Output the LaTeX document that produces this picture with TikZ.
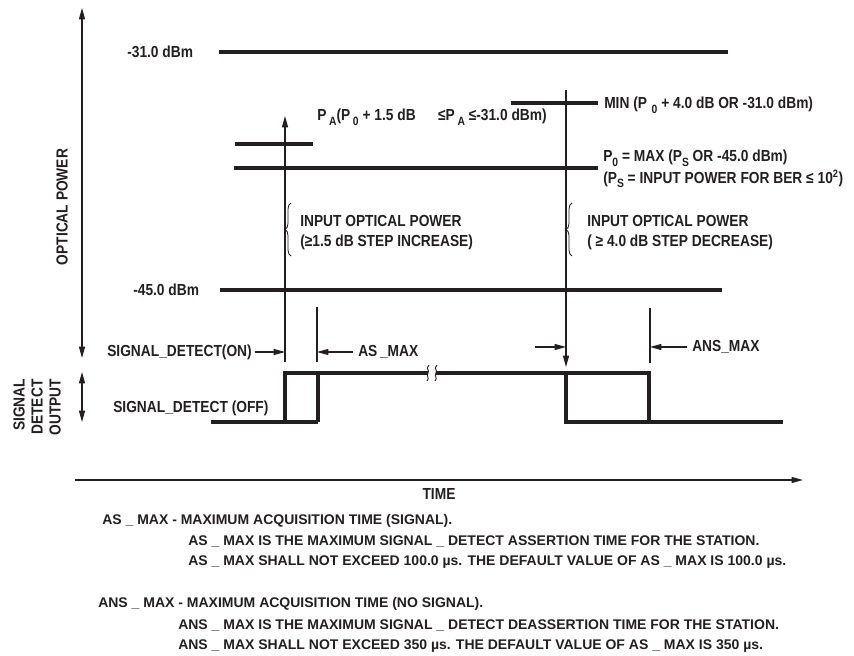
\documentclass[tikz,border=0pt]{standalone}
\usepackage{fontspec}
\setmainfont{Liberation Sans}
\newfontfamily\lblfont{Liberation Sans}[UprightFont={* Bold},FakeStretch=0.86]
\newfontfamily\notefont{Liberation Sans}[UprightFont={* Bold},FakeStretch=1.0]
\usetikzlibrary{arrows.meta,decorations.pathreplacing}
\definecolor{ink}{RGB}{35,31,32}
\newcommand\lowtxt[1]{\raisebox{-0.55ex}{\fontsize{9}{9}\selectfont #1}}
\tikzset{
  level/.style={ink,line width=3pt},
  wave/.style={ink,line width=2.6pt},
  thinline/.style={ink,line width=0.8pt},
  tip/.style={-{Triangle[length=8.5pt,width=4.5pt]}},
  lbl/.style={inner sep=0pt,text=ink,font=\lblfont\fontsize{12}{15}\selectfont},
  note/.style={inner sep=0pt,text=ink,anchor=west,font=\notefont\fontsize{10.5}{12}\selectfont},
  bracestyle/.style={ink,line width=0.6pt,decorate,decoration={brace,amplitude=4.5pt}}
}
\begin{document}
\begin{tikzpicture}[x=0.75pt,y=-0.75pt]
\useasboundingbox (0,0) rectangle (854,656);
% axes
\draw[thinline,{Triangle[length=8.5pt,width=4.5pt]}-{Triangle[length=8.5pt,width=4.5pt]}] (82,8) -- (82,358);
\draw[thinline,{Triangle[length=8.5pt,width=4.5pt]}-{Triangle[length=8.5pt,width=4.5pt]}] (82,372) -- (82,422);
\draw[thinline,tip] (75,480) -- (803,480);
\node[lbl,rotate=90] (top) at (62,207) {OPTICAL POWER};
\node[lbl,rotate=90] (s1) at (19,405) {SIGNAL};
\node[lbl,rotate=90] (s2) at (37,407) {DETECT};
\node[lbl,rotate=90] (s3) at (55,407) {OUTPUT};
\node[lbl] (ttime) at (439,494) {TIME};
% levels
\node[lbl,anchor=west] (t31) at (127,52) {-31.0 dBm};
\node[lbl,anchor=west] (t45) at (133,290) {-45.0 dBm};
\draw[level] (219,52) -- (728,52);
\draw[level] (511,103) -- (598,103);
\draw[level] (235,144) -- (313,144);
\draw[level] (234,168) -- (598,168);
\draw[level] (220,290) -- (722,290);
\node[lbl,anchor=west] (tpa) at (317,117) {P\,\lowtxt{A}(P\,\lowtxt{0} + 1.5 dB\hspace{1.4em}≤P\,\lowtxt{A} ≤-31.0 dBm)};
\node[lbl,anchor=west] (tmin) at (604,105) {MIN (P\,\lowtxt{\,0} + 4.0 dB OR -31.0 dBm)};
\node[lbl,anchor=west] (tp0) at (603,158) {P\lowtxt{0} = MAX (P\lowtxt{S} OR -45.0 dBm)};
\node[lbl,anchor=west] (tps) at (603,179) {(P\lowtxt{S} = INPUT POWER FOR BER ≤ 10\textsuperscript{2})};
% vertical step arrows
\coordinate (upbot) at (285,362);
\coordinate (uptop) at (285,116);
\draw[thinline,tip] (upbot) -- (uptop);
\coordinate (dntop) at (566,90);
\coordinate (dnbot) at (566,367);
\draw[thinline,tip] (dntop) -- (dnbot);
\draw[thinline] (317,307) -- (317,362);
\draw[thinline] (650,308) -- (650,363);
% braces
\draw[bracestyle] (291,256) -- (291,203);
\draw[bracestyle] (572,256) -- (572,203);
\node[lbl,anchor=west,align=left] (in1) at (300,233) {INPUT OPTICAL POWER\\(≥1.5 dB STEP INCREASE)};
\node[lbl,anchor=west,align=left] (in2) at (587,233) {INPUT OPTICAL POWER\\( ≥ 4.0 dB STEP DECREASE)};
% timing labels
\node[lbl,anchor=west] (ton) at (107,352) {SIGNAL\_DETECT(ON)};
\node[lbl,anchor=west] (toff) at (113,408) {SIGNAL\_DETECT (OFF)};
\node[lbl,anchor=west] (tas) at (358,352) {AS\,\_MAX};
\node[lbl,anchor=west] (tans) at (692,347) {ANS\_MAX};
\coordinate (a1) at (285,352);
\coordinate (a2) at (317,352);
\coordinate (a3s) at (535,347);
\coordinate (a3) at (566,347);
\coordinate (a4) at (650,347);
\draw[thinline,tip] ([xshift=2pt]ton.east) -- (a1);
\draw[thinline,tip] ([xshift=-4pt]tas.west) -- (a2);
\draw[thinline,tip] (a3s) -- (a3);
\draw[thinline,tip] ([xshift=-4pt]tans.west) -- (a4);
% waveform
\draw[wave] (211,422) -- (318,422);
\draw[wave] (285,422) -- (285,373) -- (428,373);
\draw[wave] (318,373) -- (318,422);
\draw[wave] (436,373) -- (566,373) -- (566,422) -- (783,422);
\draw[wave] (566,373) -- (649,373) -- (649,422);
\draw[ink,line width=0.7pt] (429,365) .. controls (425,369) and (430,370) .. (428,373) .. controls (426,376) and (430,378) .. (427,381);
\draw[ink,line width=0.7pt] (437,365) .. controls (433,369) and (438,370) .. (436,373) .. controls (434,376) and (438,378) .. (435,381);
% notes
\node[note] (n1) at (102,521) {AS \_ MAX - MAXIMUM ACQUISITION TIME (SIGNAL).};
\node[note] (n2) at (188,541) {AS \_ MAX IS THE MAXIMUM SIGNAL \_ DETECT ASSERTION TIME FOR THE STATION.};
\node[note] (n3) at (188,562) {AS \_ MAX SHALL NOT EXCEED 100.0 µs. THE DEFAULT VALUE OF AS \_ MAX IS 100.0 µs.};
\node[note] (n4) at (98,604) {ANS \_ MAX - MAXIMUM ACQUISITION TIME (NO SIGNAL).};
\node[note] (n5) at (178,625) {ANS \_ MAX IS THE MAXIMUM SIGNAL \_ DETECT DEASSERTION TIME FOR THE STATION.};
\node[note] (n6) at (178,646) {ANS \_ MAX SHALL NOT EXCEED 350 µs. THE DEFAULT VALUE OF AS \_ MAX IS 350 µs.};
\end{tikzpicture}
\end{document}
